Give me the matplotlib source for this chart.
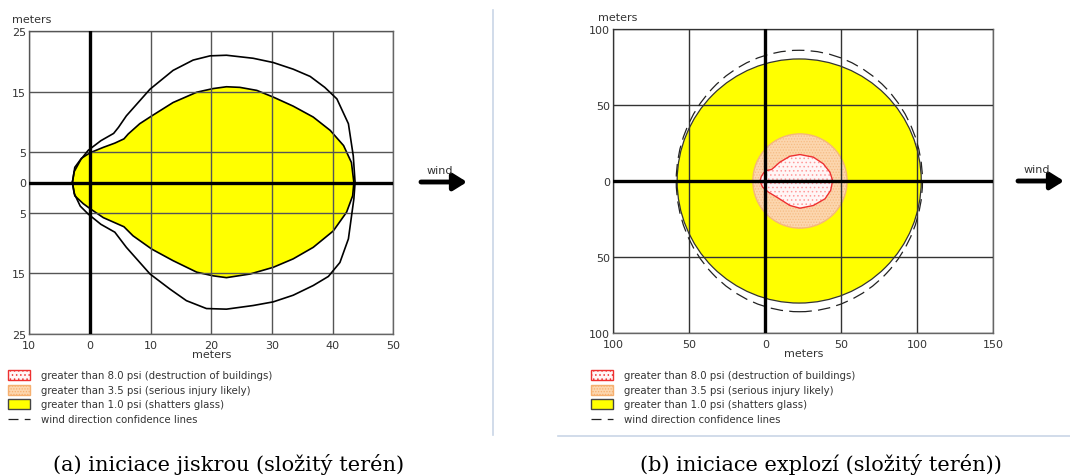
#!/usr/bin/env python3
import matplotlib

matplotlib.use("Agg")

import matplotlib.pyplot as plt
from matplotlib.patches import Circle, Ellipse, Rectangle
from matplotlib.lines import Line2D
import numpy as np

# ---- data ----
# (a) spark ignition: 1.0 psi zone, upper and lower halves
a_yellow_up_x = [-2.9, -2.5, -1.4, 0.0, 2.2, 4.1, 5.6, 6.3, 8.2, 10.2, 13.7, 17.6,
                 20.3, 22.5, 24.7, 27.5, 30.2, 33.5, 36.8, 39.6, 41.8, 43.1, 43.5]
a_yellow_up_y = [0.0, 2.5, 4.0, 4.9, 5.8, 6.5, 7.2, 8.0, 9.7, 11.0, 13.2, 14.9,
                 15.5, 15.8, 15.7, 15.2, 14.1, 12.6, 10.8, 8.6, 6.1, 3.3, 0.0]
a_yellow_lo_x = [43.3, 42.3, 40.1, 36.8, 33.5, 30.2, 26.4, 22.5, 20.3, 17.6, 13.7,
                 10.2, 7.1, 5.6, 2.2, 0.0, -1.1, -2.5]
a_yellow_lo_y = [-2.2, -4.9, -8.0, -10.7, -12.6, -14.0, -15.1, -15.7, -15.4, -14.8,
                 -12.9, -11.0, -8.8, -7.3, -5.8, -4.3, -3.5, -2.2]

# (a) wind direction confidence line
a_conf_up_x = [-2.9, -2.6, -1.5, -0.3, 1.8, 3.9, 4.7, 6.0, 9.9, 13.7, 17.0, 19.8,
               22.5, 26.9, 30.2, 33.5, 36.3, 38.7, 40.7, 42.6, 43.4, 43.7]
a_conf_up_y = [0.0, 1.8, 3.8, 5.3, 6.9, 8.1, 9.1, 11.0, 15.4, 18.5, 20.2, 20.9,
               21.0, 20.5, 19.8, 18.7, 17.5, 15.7, 13.8, 9.7, 4.4, 0.0]
a_conf_lo_x = [43.5, 42.6, 41.2, 39.3, 36.8, 33.5, 30.2, 26.9, 22.5, 19.2, 15.9,
               13.2, 9.9, 6.0, 4.1, 1.8, -0.3, -1.6, -2.6, -2.9]
a_conf_lo_y = [-2.7, -9.3, -13.2, -15.5, -17.0, -18.6, -19.7, -20.3, -20.9, -20.8,
               -19.5, -17.6, -15.1, -10.7, -8.2, -6.9, -5.2, -3.9, -1.8, 0.0]

# (b) explosion ignition
b_red_x = [-3.5, -2.6, -1.0, 0.9, 4.2, 9.6, 16.2, 22.8, 31.6, 38.2, 42.5, 44.3,
           43.0, 39.3, 31.6, 22.8, 16.2, 7.5, 2.0, -1.8]
b_red_y = [0.0, 3.0, 5.5, 6.9, 7.6, 12.4, 16.3, 17.4, 15.7, 11.3, 5.8, 0.3,
           -6.2, -11.7, -16.1, -17.9, -16.1, -10.6, -7.3, -4.0]
b_orange_center = (22.8, 0.0)
b_orange_radius = 31.0
b_yellow_center = (22.3, 0.0)
b_yellow_radius = 80.3
b_conf_center = (22.4, 0.0)
b_conf_width = 162.0
b_conf_height = 172.0

a_xticks = [-10, 0, 10, 20, 30, 40, 50]
a_yticks = [25, 15, 5, 0, -5, -15, -25]
b_xticks = [-100, -50, 0, 50, 100, 150]
b_yticks = [100, 50, 0, -50, -100]

legend_labels = [
    "greater than 8.0 psi (destruction of buildings)",
    "greater than 3.5 psi (serious injury likely)",
    "greater than 1.0 psi (shatters glass)",
    "wind direction confidence lines",
]
captions = ["(a) iniciace jiskrou (složitý terén)", "(b) iniciace explozí (složitý terén))"]

W, H = 1070, 477
plt.rcParams["font.family"] = ["DejaVu Sans"]
plt.rcParams["hatch.linewidth"] = 0.6
TXT = "#333333"

fig = plt.figure(figsize=(W / 100, H / 100), dpi=100)


def px_axes(x0, y0, x1, y1, **kw):
    return fig.add_axes([x0 / W, 1 - y1 / H, (x1 - x0) / W, (y1 - y0) / H], **kw)


def style_map(ax, xticks, yticks, gridcolor):
    ax.set_xlim(xticks[0], xticks[-1])
    ax.set_ylim(yticks[-1], yticks[0])
    ax.set_xticks(xticks)
    ax.set_yticks(yticks)
    ax.set_xticklabels([str(abs(v)) for v in xticks])
    ax.set_yticklabels([str(abs(v)) for v in yticks])
    ax.tick_params(length=0, labelsize=8, labelcolor=TXT)
    ax.tick_params(axis="x", pad=4.5)
    ax.tick_params(axis="y", pad=2.5)
    ax.grid(True, color=gridcolor, lw=1.0)
    ax.set_axisbelow(False)
    for s in ax.spines.values():
        s.set_color("#666666")
        s.set_linewidth(1.0)
    ax.axhline(0, color="black", lw=2.4, zorder=4)
    ax.axvline(0, color="black", lw=2.4, zorder=4)
    ax.set_xlabel("meters", fontsize=8, color=TXT, labelpad=-1)


# ---- panel (a) ----
ax1 = px_axes(29.3, 32, 393.3, 335)
ax1.fill(a_yellow_up_x + a_yellow_lo_x, a_yellow_up_y + a_yellow_lo_y,
         facecolor="#ffff00", edgecolor="black", lw=1.2, zorder=1)
ax1.plot(a_conf_up_x + a_conf_lo_x, a_conf_up_y + a_conf_lo_y, color="black", lw=1.2,
         zorder=3)
style_map(ax1, a_xticks, a_yticks, "#555555")

# ---- panel (b) ----
ax2 = px_axes(613.3, 30, 993.3, 334)
ax2.add_patch(Circle(b_yellow_center, b_yellow_radius, facecolor="#ffff00",
                     edgecolor="#333333", lw=0.9, zorder=1))
ax2.add_patch(Circle(b_orange_center, b_orange_radius, facecolor="#fcd6ae",
                     edgecolor="#f6bc84", hatch="......", lw=0, zorder=1.2))
ax2.add_patch(Circle(b_orange_center, b_orange_radius, fill=False,
                     edgecolor="#f5b77a", lw=1.0, zorder=1.3))
ax2.fill(b_red_x, b_red_y, facecolor="#fff6f6", edgecolor="#ff9a9a", hatch="....",
         lw=0, zorder=1.4)
ax2.fill(b_red_x, b_red_y, fill=False, edgecolor="#ee3030", lw=1.0, zorder=1.5)
ax2.add_patch(Ellipse(b_conf_center, b_conf_width, b_conf_height, fill=False,
                      edgecolor="#222222", lw=0.9, linestyle=(0, (10, 5)), zorder=3))
style_map(ax2, b_xticks, b_yticks, "#333333")

# ---- decorations in pixel coordinates ----
ov = fig.add_axes([0, 0, 1, 1], zorder=10)
ov.set_xlim(0, W)
ov.set_ylim(H, 0)
ov.axis("off")
ov.patch.set_alpha(0)

fig.text(12 / W, 1 - 20 / H, "meters", fontsize=8, color=TXT, va="center")
fig.text(598 / W, 1 - 18 / H, "meters", fontsize=8, color=TXT, va="center")

for x0, y0 in [(421, 183), (1018, 182)]:
    ov.annotate("", xy=(x0 + 46, y0), xytext=(x0, y0),
                arrowprops=dict(arrowstyle="-|>,head_length=0.8,head_width=0.5",
                                color="black", lw=3.5, shrinkA=0, shrinkB=0))
    ov.text(x0 + 19, y0 - 12, "wind", fontsize=8, color=TXT, ha="center", va="center")

legend_styles = [
    dict(facecolor="#fff6f6", edgecolor="#ee3030", hatch="...."),
    dict(facecolor="#fcd6ae", edgecolor="#f6b070", hatch="......"),
    dict(facecolor="#ffff00", edgecolor="#444444"),
]
row_y = [376, 391, 405, 420]
for lx in [7.5, 591]:
    for i, st in enumerate(legend_styles):
        ov.add_patch(Rectangle((lx, row_y[i] - 5), 22, 10, lw=1.0, **st))
    ov.add_line(Line2D([lx, lx + 22], [row_y[3], row_y[3]], color="#222222", lw=0.9,
                       linestyle=(0, (8, 5))))
    for i, lab in enumerate(legend_labels):
        ov.text(lx + 33.5, row_y[i], lab, fontsize=7.3, color=TXT, va="center")

# separators
ov.add_line(Line2D([493, 493], [11, 436], color="#c9d6e6", lw=1.2))
ov.add_line(Line2D([558, 1070], [437, 437], color="#c9d6e6", lw=1.2))

cap_font = ["DejaVu Serif"]
ov.text(229, 465, captions[0], fontsize=15, family=cap_font, ha="center", va="center")
ov.text(821, 465, captions[1], fontsize=15, family=cap_font, ha="center", va="center")

fig.savefig("out.png", dpi=100)
